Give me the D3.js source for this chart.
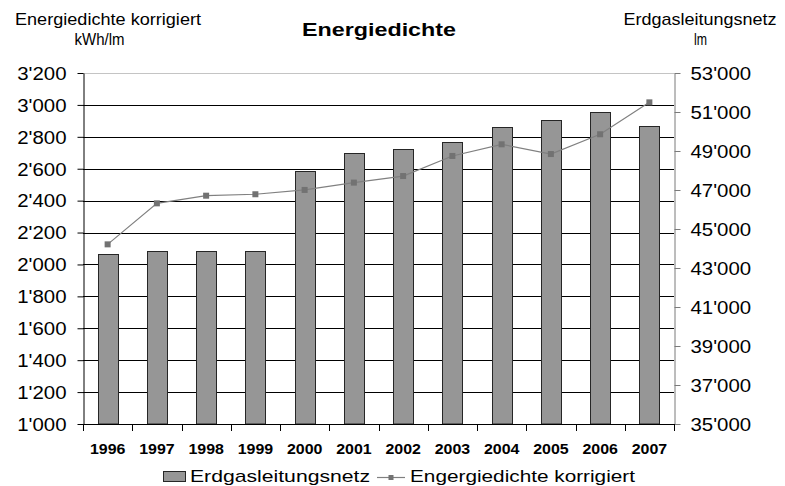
<!DOCTYPE html>
<html>
<head>
<meta charset="utf-8">
<script src="https://cdn.jsdelivr.net/npm/d3@7"></script>
<style>
  html, body { margin: 0; padding: 0; background: #fff; }
  svg { display: block; }
  text { font-family: "Liberation Sans", Arial, sans-serif; fill: #000; }
</style>
</head>
<body>
<svg id="chart" width="785" height="486"></svg>
<script>
// Jahre
const years = ["1996", "1997", "1998", "1999", "2000", "2001", "2002", "2003", "2004", "2005", "2006", "2007"];
// Erdgasleitungsnetz in Laufmetern (Säulen, rechte Achse)
const netzLaenge = [43700, 43850, 43850, 43850, 48000, 48900, 49100, 49480, 50210, 50570, 50980, 50300];
// Energiedichte korrigiert in kWh/lm (Linie, linke Achse)
const energiedichte = [2126, 2383, 2431, 2440, 2467, 2513, 2554, 2680, 2753, 2692, 2816, 3016];
// Achsenbeschriftungen
const leftTicks = [1000, 1200, 1400, 1600, 1800, 2000, 2200, 2400, 2600, 2800, 3000, 3200];
const rightTicks = [35000, 37000, 39000, 41000, 43000, 45000, 47000, 49000, 51000, 53000];

const plot = { left: 83, right: 674, top: 73, bottom: 424 };
const barFill = "#969696", barStroke = "#262626";
const lineColor = "#808080", markerColor = "#727272";

const fmt = d3.formatLocale({ decimal: ".", thousands: "'", grouping: [3], currency: ["", ""] }).format(",d");

const svg = d3.select("#chart");
svg.append("rect").attr("width", 785).attr("height", 486).attr("fill", "#fff");

const x = d3.scaleBand().domain(years).range([plot.left, plot.right])
  .paddingInner(0.59).paddingOuter(0.295);
const yL = d3.scaleLinear().domain([1000, 3200]).range([plot.bottom, plot.top]);
const yR = d3.scaleLinear().domain([35000, 53000]).range([plot.bottom, plot.top]);
const crisp = v => Math.round(v) + 0.5;

// Gitternetzlinien
svg.append("g").attr("shape-rendering", "crispEdges")
  .selectAll("line").data(leftTicks.slice(1)).join("line")
  .attr("x1", plot.left).attr("x2", plot.right)
  .attr("y1", d => crisp(yL(d))).attr("y2", d => crisp(yL(d)))
  .attr("stroke", d => d === 3200 ? "#c4c4c4" : "#000")
  .attr("stroke-width", 1);

// Säulen: Erdgasleitungsnetz
svg.append("g").selectAll("rect")
  .data(years.map((y, i) => ({ year: y, v: netzLaenge[i] }))).join("rect")
  .attr("x", d => crisp(x(d.year)))
  .attr("y", d => crisp(yR(d.v)))
  .attr("width", Math.round(x.bandwidth()))
  .attr("height", d => Math.round(plot.bottom) - crisp(yR(d.v)))
  .attr("fill", barFill).attr("stroke", barStroke).attr("stroke-width", 1);

// Linke Achse
const axL = svg.append("g").attr("transform", `translate(${crisp(plot.left)},0)`)
  .call(d3.axisLeft(yL).tickValues(leftTicks).tickFormat(fmt).tickSize(6).tickSizeOuter(0));
axL.select(".domain").attr("stroke", "#000");
axL.selectAll(".tick line").attr("stroke", "#000");
axL.selectAll(".tick text")
  .attr("x", null).attr("dy", "0.36em")
  .attr("transform", "translate(-17,0) scale(1.16,1)")
  .attr("font-size", 17.6).attr("font-family", null).attr("fill", "#000");

// Rechte Achse
const axR = svg.append("g").attr("transform", `translate(${crisp(plot.right)},0)`)
  .call(d3.axisRight(yR).tickValues(rightTicks).tickFormat(fmt).tickSize(6).tickSizeOuter(0));
axR.select(".domain").attr("stroke", "#7a7a7a");
axR.selectAll(".tick line").attr("stroke", "#7a7a7a");
axR.selectAll(".tick text")
  .attr("x", null).attr("dy", "0.36em")
  .attr("transform", "translate(16,0) scale(1.16,1)")
  .attr("font-size", 17.6).attr("font-family", null).attr("fill", "#000");

// Untere Achse: Beschriftungen
const axB = svg.append("g").attr("transform", `translate(0,${crisp(plot.bottom)})`)
  .call(d3.axisBottom(x).tickSize(0).tickSizeOuter(0));
axB.select(".domain").remove();
axB.selectAll(".tick text")
  .attr("y", null).attr("dy", null)
  .attr("transform", "translate(0,29) scale(1.1,1)")
  .attr("font-size", 14.5).attr("font-weight", "bold").attr("font-family", null).attr("fill", "#000");

// Untere Achse: Linie und Teilstriche an den Kategoriegrenzen
const bounds = d3.range(years.length + 1).map(i => x.range()[0] + i * x.step());
const base = svg.append("g").attr("shape-rendering", "crispEdges");
base.append("line")
  .attr("x1", plot.left).attr("x2", plot.right + 1)
  .attr("y1", crisp(plot.bottom)).attr("y2", crisp(plot.bottom))
  .attr("stroke", "#000");
base.selectAll(".bt").data(bounds).join("line").attr("class", "bt")
  .attr("x1", d => crisp(d)).attr("x2", d => crisp(d))
  .attr("y1", crisp(plot.bottom)).attr("y2", crisp(plot.bottom) + 6)
  .attr("stroke", "#000");

// Linie: Energiedichte korrigiert
const pts = years.map((y, i) => ({ year: y, v: energiedichte[i] }));
const cx = d => x(d.year) + x.bandwidth() / 2;
svg.append("path").datum(pts)
  .attr("d", d3.line().x(cx).y(d => yL(d.v)))
  .attr("fill", "none").attr("stroke", lineColor).attr("stroke-width", 1.2);
svg.append("g").selectAll("rect").data(pts).join("rect")
  .attr("x", d => cx(d) - 3).attr("y", d => yL(d.v) - 3)
  .attr("width", 6).attr("height", 6).attr("fill", markerColor);

// Titel
svg.append("text").attr("x", 379).attr("y", 36).attr("text-anchor", "middle")
  .attr("font-size", 18.5).attr("font-weight", "bold")
  .attr("textLength", 154).attr("lengthAdjust", "spacingAndGlyphs")
  .text("Energiedichte");

// Achsentitel
const axisTitle = (cxp, y, len, txt) => svg.append("text")
  .attr("x", cxp).attr("y", y).attr("text-anchor", "middle")
  .attr("font-size", 16.2)
  .attr("textLength", len).attr("lengthAdjust", "spacingAndGlyphs")
  .text(txt);
axisTitle(108, 24.5, 186, "Energiedichte korrigiert");
axisTitle(99.5, 44.5, 50, "kWh/lm");
axisTitle(700, 25, 153, "Erdgasleitungsnetz");
axisTitle(700.5, 45, 13, "lm");

// Legende
const lg = svg.append("g");
lg.append("rect").attr("x", 163.5).attr("y", 471.5).attr("width", 22).attr("height", 10)
  .attr("fill", barFill).attr("stroke", barStroke);
lg.append("text").attr("x", 190).attr("y", 482).attr("font-size", 17)
  .attr("textLength", 180).attr("lengthAdjust", "spacingAndGlyphs")
  .text("Erdgasleitungsnetz");
lg.append("line").attr("x1", 377).attr("x2", 405).attr("y1", 477.5).attr("y2", 477.5)
  .attr("stroke", lineColor).attr("stroke-width", 1.2);
lg.append("rect").attr("x", 388.5).attr("y", 475).attr("width", 5).attr("height", 5)
  .attr("fill", markerColor);
lg.append("text").attr("x", 410).attr("y", 482).attr("font-size", 17)
  .attr("textLength", 225).attr("lengthAdjust", "spacingAndGlyphs")
  .text("Engergiedichte korrigiert");
</script>
</body>
</html>
